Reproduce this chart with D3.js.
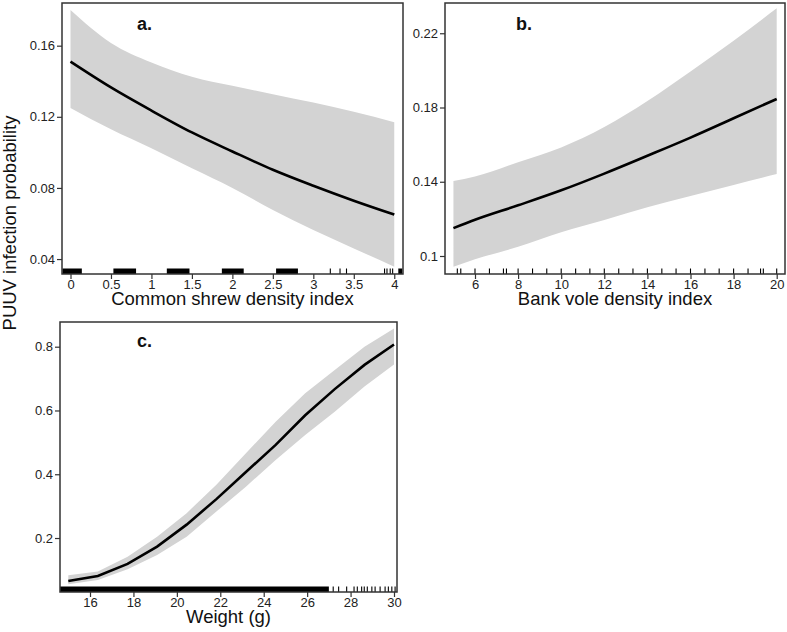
<!DOCTYPE html>
<html>
<head>
<meta charset="utf-8">
<script src="https://cdn.jsdelivr.net/npm/d3@7"></script>
<style>
  html, body { margin: 0; padding: 0; background: #fff; }
  svg { display: block; font-family: "Liberation Sans", Arial, sans-serif; }
</style>
</head>
<body>
<svg id="chart" width="787" height="632"></svg>
<script>
// ---------- Panel a: Common shrew density index ----------
const shrewX     = [0, 0.5, 1, 1.5, 2, 2.5, 3, 3.5, 4];
const shrewFit   = [0.151, 0.1365, 0.1235, 0.1112, 0.1005, 0.0902, 0.0812, 0.0728, 0.065];
const shrewLower = [0.125, 0.113, 0.1023, 0.091, 0.080, 0.0676, 0.0563, 0.046, 0.0357];
const shrewUpper = [0.180, 0.1615, 0.1505, 0.1425, 0.1374, 0.1327, 0.128, 0.1229, 0.117];
const shrewRugBlocks = [[-0.1, 0.14], [0.53, 0.81], [1.19, 1.47], [1.87, 2.14], [2.54, 2.81], [4.05, 4.1]];
const shrewRugTicks  = [3.21, 3.33, 3.41, 3.88, 3.91, 3.95, 3.98];
const shrewXTicks = [0, 0.5, 1, 1.5, 2, 2.5, 3, 3.5, 4];
const shrewYTicks = [0.04, 0.08, 0.12, 0.16];

// ---------- Panel b: Bank vole density index ----------
const voleX     = [5, 6, 8, 10, 12, 14, 16, 18, 20];
const voleFit   = [0.115, 0.1195, 0.1273, 0.1354, 0.1444, 0.1540, 0.1638, 0.1742, 0.1846];
const voleLower = [0.0942, 0.0982, 0.105, 0.1128, 0.1194, 0.1262, 0.1323, 0.1383, 0.1442];
const voleUpper = [0.1404, 0.1428, 0.1505, 0.1585, 0.1695, 0.1835, 0.1994, 0.216, 0.2335];
const voleRugTicks = [5.18, 5.34, 6, 6.67, 7.32, 7.46, 8, 8.67, 9.33, 10, 10.67, 11.33, 12, 12.67,
                      13.33, 14, 14.67, 15.33, 16, 16.67, 17.33, 18, 18.67, 19.25, 19.38, 20];
const voleXTicks = [6, 8, 10, 12, 14, 16, 18, 20];
const voleYTicks = [0.1, 0.14, 0.18, 0.22];

// ---------- Panel c: Weight (g) ----------
const weightX     = [15, 16.36, 17.73, 19.09, 20.45, 21.82, 23.18, 24.55, 25.91, 27.27, 28.64, 30];
const weightFit   = [0.065, 0.081, 0.119, 0.173, 0.242, 0.322, 0.407, 0.492, 0.585, 0.667, 0.743, 0.807];
const weightLower = [0.055, 0.068, 0.102, 0.147, 0.204, 0.283, 0.361, 0.445, 0.523, 0.596, 0.675, 0.744];
const weightUpper = [0.083, 0.095, 0.141, 0.204, 0.278, 0.367, 0.466, 0.565, 0.654, 0.727, 0.800, 0.857];
const weightRugBlocks = [[14.62, 27.0]];
const weightRugTicks  = [27.2, 27.45, 27.82, 28.16, 28.31, 28.51, 28.63, 28.77, 28.98, 29.13,
                         29.36, 29.59, 29.74, 29.9, 30.05];
const weightXTicks = [16, 18, 20, 22, 24, 26, 28, 30];
const weightYTicks = [0.2, 0.4, 0.6, 0.8];

const FONT = '"Liberation Sans", Arial, sans-serif';
const svg = d3.select("#chart");

function drawPanel(cfg) {
  const x = d3.scaleLinear().domain(cfg.xDomain).range([cfg.left, cfg.right]);
  const y = d3.scaleLinear().domain(cfg.yDomain).range([cfg.bottom, cfg.top]);
  const g = svg.append("g");
  const pts = cfg.xs.map((v, i) => ({x: v, fit: cfg.fit[i], lo: cfg.lower[i], hi: cfg.upper[i]}));

  g.append("path")
    .datum(pts)
    .attr("fill", "#d3d3d3")
    .attr("d", d3.area().x(d => x(d.x)).y0(d => y(d.lo)).y1(d => y(d.hi)).curve(cfg.curve));

  g.append("path")
    .datum(pts)
    .attr("fill", "none")
    .attr("stroke", "#000")
    .attr("stroke-width", 2.6)
    .attr("d", d3.line().x(d => x(d.x)).y(d => y(d.fit)).curve(cfg.curve));

  // rug
  const rugH = 5.5;
  g.selectAll(".rugblock").data(cfg.rugBlocks || []).join("rect")
    .attr("x", d => Math.max(cfg.left, x(d[0])))
    .attr("width", d => Math.min(cfg.right, x(d[1])) - Math.max(cfg.left, x(d[0])))
    .attr("y", cfg.bottom - rugH)
    .attr("height", rugH)
    .attr("fill", "#000");
  g.selectAll(".rugtick").data(cfg.rugTicks || []).join("line")
    .attr("x1", d => x(d)).attr("x2", d => x(d))
    .attr("y1", cfg.bottom - rugH).attr("y2", cfg.bottom)
    .attr("stroke", "#000").attr("stroke-width", 1.1);

  // box
  g.append("rect")
    .attr("x", cfg.left).attr("y", cfg.top)
    .attr("width", cfg.right - cfg.left).attr("height", cfg.bottom - cfg.top)
    .attr("fill", "none").attr("stroke", "#333").attr("stroke-width", 1.5);

  // axes
  const xa = g.append("g").attr("transform", `translate(0,${cfg.bottom})`)
    .call(d3.axisBottom(x).tickValues(cfg.xTicks).tickSize(5).tickSizeOuter(0).tickPadding(1)
      .tickFormat(d => String(d)));
  const ya = g.append("g").attr("transform", `translate(${cfg.left},0)`)
    .call(d3.axisLeft(y).tickValues(cfg.yTicks).tickSize(5).tickSizeOuter(0).tickPadding(2)
      .tickFormat(d => String(d)));
  [xa, ya].forEach(a => {
    a.attr("font-size", 13).attr("font-family", FONT);
    a.select(".domain").remove();
    a.selectAll(".tick line").attr("stroke", "#333").attr("stroke-width", 1.2);
    a.selectAll(".tick text").attr("fill", "#222").attr("font-size", 13);
  });

  // axis title
  g.append("text")
    .attr("x", (cfg.left + cfg.right) / 2)
    .attr("y", cfg.titleY)
    .attr("text-anchor", "middle")
    .attr("fill", "#111")
    .attr("font-size", 18.5)
    .text(cfg.title);

  // panel letter
  g.append("text")
    .attr("x", cfg.letterX).attr("y", cfg.letterY)
    .attr("fill", "#111")
    .attr("font-size", 18).attr("font-weight", "bold")
    .text(cfg.letter);
}

drawPanel({
  xs: shrewX, fit: shrewFit, lower: shrewLower, upper: shrewUpper,
  rugBlocks: shrewRugBlocks, rugTicks: shrewRugTicks,
  xTicks: shrewXTicks, yTicks: shrewYTicks,
  xDomain: [-0.105, 4.108], yDomain: [0.0316, 0.184],
  left: 62, right: 403, top: 3, bottom: 274,
  curve: d3.curveMonotoneX,
  title: "Common shrew density index", titleY: 305,
  letter: "a.", letterX: 137, letterY: 30
});

drawPanel({
  xs: voleX, fit: voleFit, lower: voleLower, upper: voleUpper,
  rugBlocks: [], rugTicks: voleRugTicks,
  xTicks: voleXTicks, yTicks: voleYTicks,
  xDomain: [4.608, 20.385], yDomain: [0.0903, 0.2363],
  left: 445, right: 785, top: 3, bottom: 274,
  curve: d3.curveMonotoneX,
  title: "Bank vole density index", titleY: 305,
  letter: "b.", letterX: 516, letterY: 30
});

drawPanel({
  xs: weightX, fit: weightFit, lower: weightLower, upper: weightUpper,
  rugBlocks: weightRugBlocks, rugTicks: weightRugTicks,
  xTicks: weightXTicks, yTicks: weightYTicks,
  xDomain: [14.618, 30.138], yDomain: [0.0307, 0.8775],
  left: 60, right: 397, top: 322, bottom: 592,
  curve: d3.curveLinear,
  title: "Weight (g)", titleY: 623,
  letter: "c.", letterX: 137, letterY: 347
});

// shared y-axis title
svg.append("text")
  .attr("transform", "translate(16,223) rotate(-90)")
  .attr("text-anchor", "middle")
  .attr("fill", "#111")
  .attr("font-size", 18.5)
  .text("PUUV infection probability");
</script>
</body>
</html>
